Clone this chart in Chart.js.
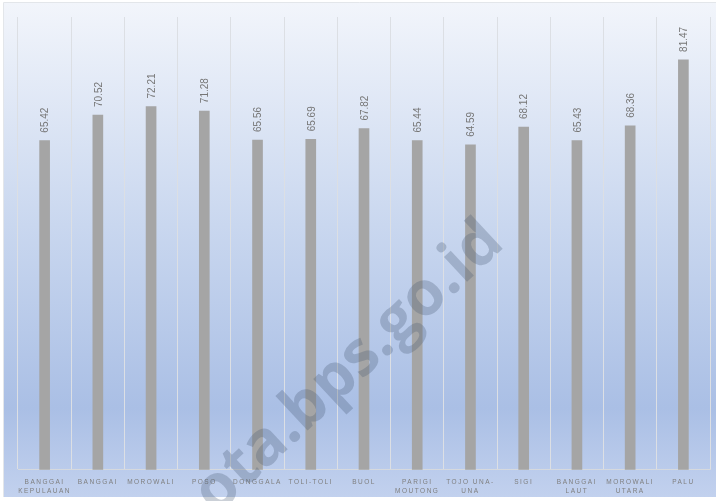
<!DOCTYPE html>
<html>
<head>
<meta charset="utf-8">
<script src="https://cdn.jsdelivr.net/npm/chart.js@4.4.1/dist/chart.umd.min.js"></script>
<style>
  html, body { margin: 0; padding: 0; background: #ffffff; }
  #wrap { width: 716px; height: 501px; position: relative; }
</style>
</head>
<body>
<div id="wrap"><canvas id="c" width="716" height="501"></canvas></div>
<script>
const categories = [
  ["BANGGAI", "KEPULAUAN"], "BANGGAI", "MOROWALI", "POSO", "DONGGALA", "TOLI-TOLI",
  "BUOL", ["PARIGI", "MOUTONG"], ["TOJO UNA-", "UNA"], "SIGI", ["BANGGAI", "LAUT"],
  ["MOROWALI", "UTARA"], "PALU"
];
const values = [65.42, 70.52, 72.21, 71.28, 65.56, 65.69, 67.82, 65.44, 64.59, 68.12, 65.43, 68.36, 81.47];
const valueLabels = ["65.42", "70.52", "72.21", "71.28", "65.56", "65.69", "67.82", "65.44", "64.59", "68.12", "65.43", "68.36", "81.47"];
const watermarkText = "ota.bps.go.id";

const bgPlugin = {
  id: 'bg',
  beforeDraw(chart) {
    const ctx = chart.ctx;
    ctx.save();
    ctx.fillStyle = '#ffffff';
    ctx.fillRect(0, 0, chart.width, chart.height);
    const g = ctx.createLinearGradient(0, 3, 0, 497);
    g.addColorStop(0, '#f2f5fb');
    g.addColorStop(0.45, '#c9d7ef');
    g.addColorStop(0.82, '#aabfe5');
    g.addColorStop(1, '#c2d1ee');
    ctx.fillStyle = g;
    ctx.fillRect(4, 3, chart.width - 4, 494);
    ctx.strokeStyle = '#e3e6ea';
    ctx.lineWidth = 1;
    ctx.beginPath();
    ctx.moveTo(3.5, 497);
    ctx.lineTo(3.5, 2.5);
    ctx.lineTo(chart.width, 2.5);
    ctx.stroke();
    ctx.restore();
    ctx.letterSpacing = '1.5px';
  },
  beforeDatasetsDraw(chart) {
    chart.ctx.letterSpacing = '0px';
  },
  afterDatasetsDraw(chart) {
    const ctx = chart.ctx;
    const meta = chart.getDatasetMeta(0);
    ctx.save();
    ctx.letterSpacing = '0px';
    ctx.font = '10px "Liberation Sans", Arial, sans-serif';
    ctx.fillStyle = '#767676';
    ctx.textAlign = 'left';
    ctx.textBaseline = 'middle';
    meta.data.forEach((bar, i) => {
      ctx.save();
      ctx.translate(bar.x + 1, bar.y - 8);
      ctx.rotate(-Math.PI / 2);
      ctx.fillText(valueLabels[i], 0, 0);
      ctx.restore();
    });
    ctx.restore();
  },
  afterDraw(chart) {
    const ctx = chart.ctx;
    ctx.save();
    ctx.letterSpacing = '0px';
    ctx.translate(204, 503);
    ctx.rotate(-43 * Math.PI / 180);
    ctx.font = 'bold 62px "Open Sans", "Liberation Sans", sans-serif';
    ctx.fillStyle = 'rgba(70, 85, 110, 0.28)';
    ctx.textAlign = 'left';
    ctx.textBaseline = 'middle';
    ctx.fillText(watermarkText, 0, 0);
    ctx.restore();
  }
};

new Chart(document.getElementById('c'), {
  type: 'bar',
  data: {
    labels: categories,
    datasets: [{
      data: values,
      backgroundColor: '#a5a5a5',
      borderWidth: 0,
      barThickness: 10
    }]
  },
  options: {
    responsive: false,
    animation: false,
    devicePixelRatio: 1,
    layout: { padding: { left: 18, right: 6, top: 17, bottom: -3 } },
    plugins: { legend: { display: false }, tooltip: { enabled: false } },
    scales: {
      x: {
        offset: true,
        grid: { display: true, offset: true, color: '#dcdfe4', lineWidth: 1, drawTicks: false },
        border: { display: true, color: '#d6d9de', width: 1 },
        ticks: {
          autoSkip: false, maxRotation: 0, minRotation: 0,
          color: '#7f7f7f',
          padding: 8,
          font: { family: '"Liberation Sans", Arial, sans-serif', size: 6.5, lineHeight: 1.4 }
        }
      },
      y: {
        display: false,
        min: 0, max: 90,
        grid: { display: false }
      }
    }
  },
  plugins: [bgPlugin]
});
</script>
</body>
</html>
